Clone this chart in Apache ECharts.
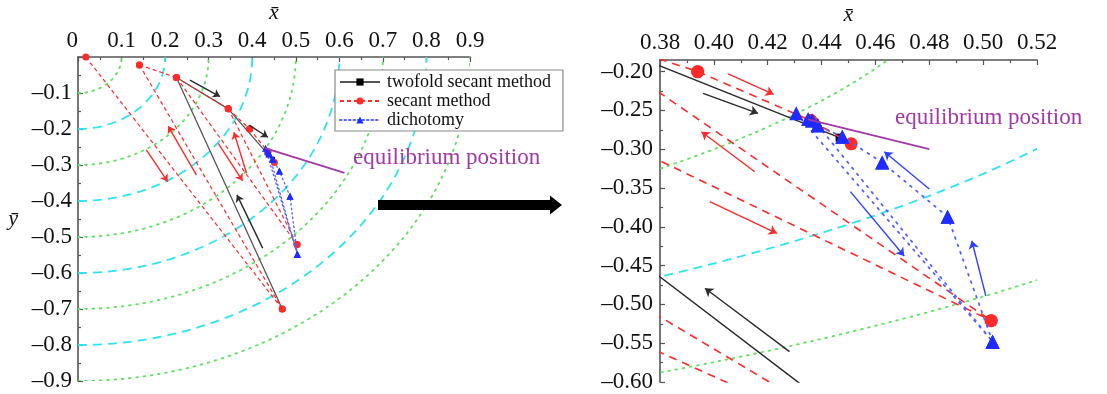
<!DOCTYPE html>
<html>
<head>
<meta charset="utf-8">
<script src="https://cdn.jsdelivr.net/npm/echarts@6/dist/echarts.min.js"></script>
<style>
  html, body { margin: 0; padding: 0; background: #fff; }
  #chart { width: 1107px; height: 394px; }
</style>
</head>
<body>
<div id="chart"></div>
<script>
// Concentric reference circles about the origin (radius, 0 = dotted green, 1 = dashed cyan)
const radii = [0.1, 0.2, 0.3, 0.4, 0.5, 0.6, 0.7, 0.8, 0.9];
const radiusKind = [0, 1, 0, 1, 0, 1, 0, 1, 0];

// Secant method: iterate points and the secants joining them
const secantPoints = [
  [0.018, 0.000], [0.141, -0.022], [0.226, -0.057], [0.345, -0.144],
  [0.394, -0.200], [0.436, -0.263], [0.451, -0.293], [0.469, -0.700], [0.503, -0.521]
];
const secantLinks = [[0, 7], [1, 7], [1, 2], [2, 3], [3, 4], [4, 5], [5, 6], [2, 8], [3, 8]];

// Twofold secant method
const twofoldPoints = [[0.226, -0.057], [0.469, -0.700], [0.345, -0.144], [0.4467, -0.285]];
const twofoldLinks = [[0, 1], [0, 2], [2, 3]];

// Dichotomy
const dichotomyPoints = [
  [0.4306, -0.2537], [0.4350, -0.2610], [0.4365, -0.2630], [0.4386, -0.2690],
  [0.4477, -0.2840], [0.4625, -0.3170], [0.4868, -0.3870], [0.5035, -0.5480]
];
const dichotomyLinks = [[0, 7], [7, 6], [6, 5], [5, 4], [4, 3], [3, 2], [2, 1], [3, 7]];

// Direction arrows, overview panel
const leftBlackArrows = [
  [[0.257, -0.064], [0.326, -0.110]],
  [[0.393, -0.189], [0.436, -0.223]],
  [[0.424, -0.531], [0.365, -0.383]]
];
const leftRedArrows = [
  [[0.157, -0.258], [0.206, -0.346]],
  [[0.272, -0.328], [0.207, -0.192]],
  [[0.322, -0.240], [0.378, -0.344]],
  [[0.387, -0.323], [0.358, -0.209]]
];
// Direction arrows, enlarged panel
const rightBlackArrows = [
  [[0.3960, -0.2280], [0.4164, -0.2537]],
  [[0.4281, -0.5609], [0.3967, -0.4792]]
];
const rightRedArrows = [
  [[0.4053, -0.2030], [0.4222, -0.2292]],
  [[0.4152, -0.3290], [0.3954, -0.2774]],
  [[0.3985, -0.3676], [0.4234, -0.4083]]
];
const rightBlueArrows = [
  [[0.4800, -0.3512], [0.4633, -0.3032]],
  [[0.4507, -0.3547], [0.4707, -0.4376]],
  [[0.5010, -0.4891], [0.4958, -0.4179]]
];

// Pointer lines to the equilibrium label
const leftPointer = [[0.429, -0.253], [0.612, -0.322]];
const rightPointer = [[0.4349, -0.2614], [0.4800, -0.2999]];

const SERIF = 'Liberation Serif';
const RED = '#ff2b2b', BLUE = '#1f2bff', BLACK = '#2a2a2a', PURPLE = '#a23aa6';

function linked(points, links) {
  const out = [];
  links.forEach(([a, b], i) => {
    if (i > 0) out.push(null);
    out.push(points[a], points[b]);
  });
  return out;
}

function renderArc(params, api) {
  const r = api.value(0);
  const o = api.coord([0, 0]);
  const rx = api.size([r, 0])[0];
  const ry = api.size([0, r])[1];
  const dotted = api.value(1) === 0;
  return {
    type: 'path',
    shape: { pathData: 'M ' + o[0] + ' ' + (o[1] + ry) + ' A ' + rx + ' ' + ry + ' 0 0 0 ' + (o[0] + rx) + ' ' + o[1] },
    style: {
      fill: 'none',
      stroke: dotted ? '#62e062' : '#2fe3ef',
      lineWidth: 1.8,
      lineDash: dotted ? [1.8, 5.5] : [9, 6],
      lineCap: dotted ? 'round' : 'butt'
    }
  };
}

function arrowSeries(arr, color, g, size) {
  return {
    type: 'lines', coordinateSystem: 'cartesian2d', xAxisIndex: g, yAxisIndex: g,
    symbol: ['none', 'arrow'], symbolSize: size, z: 6, silent: true,
    lineStyle: { color: color, width: 1.4, opacity: 1, curveness: 0 },
    data: arr.map(c => ({ coords: c }))
  };
}

function panelSeries(g, big) {
  return [
    {
      type: 'custom', xAxisIndex: g, yAxisIndex: g, clip: true, silent: true, z: 1,
      renderItem: renderArc,
      data: radii.map((r, i) => [r, radiusKind[i]])
    },
    {
      name: 'twofold secant method', type: 'line', xAxisIndex: g, yAxisIndex: g, z: 3,
      data: linked(twofoldPoints, twofoldLinks), connectNulls: false,
      symbol: 'rect', symbolSize: big ? 8 : 5, showSymbol: true,
      itemStyle: { color: '#000' },
      lineStyle: { color: big ? BLACK : '#555', width: big ? 1.5 : 1.3, type: 'solid' }
    },
    {
      name: 'secant method', type: 'line', xAxisIndex: g, yAxisIndex: g, z: 4,
      data: linked(secantPoints, secantLinks), connectNulls: false,
      symbol: 'circle', symbolSize: big ? 13 : 7, showSymbol: true,
      itemStyle: { color: RED },
      lineStyle: { color: RED, width: big ? 1.6 : 1.2, type: big ? [8, 6] : [4, 3] }
    },
    {
      name: 'dichotomy', type: 'line', xAxisIndex: g, yAxisIndex: g, z: 5,
      data: linked(dichotomyPoints, dichotomyLinks), connectNulls: false,
      symbol: 'triangle', symbolSize: big ? 14 : 7, showSymbol: true,
      itemStyle: { color: BLUE },
      lineStyle: { color: '#5560ff', width: big ? 1.8 : 1.3, type: big ? [1.8, 6] : [1.5, 3], cap: 'round' }
    },
    {
      type: 'line', xAxisIndex: g, yAxisIndex: g, z: 6, silent: true,
      data: g === 0 ? leftPointer : rightPointer, showSymbol: false,
      lineStyle: { color: PURPLE, width: 1.8 }
    }
  ];
}

function fmt(digits) {
  return v => {
    if (Math.abs(v) < 1e-9) return '0';
    const s = Math.abs(v).toFixed(digits);
    return v < 0 ? '\u2013' + s : s;
  };
}

const axisCommon = {
  type: 'value',
  axisLine: { show: true, onZero: false, lineStyle: { color: '#555', width: 1.6 } },
  axisTick: { show: true, inside: true, length: 5, lineStyle: { color: '#555', width: 1.2 } },
  minorTick: { show: true, splitNumber: 2, length: 3, lineStyle: { color: '#555', width: 1.2 } },
  splitLine: { show: false },
  nameTextStyle: { fontFamily: SERIF, fontStyle: 'italic', fontSize: 22, color: '#111' }
};
const labelCommon = { fontFamily: SERIF, fontSize: 23, color: '#111' };

const chart = echarts.init(document.getElementById('chart'), null, { renderer: 'canvas' });

chart.setOption({
  animation: false,
  backgroundColor: '#fff',
  grid: [
    { left: 78, top: 57, width: 392, height: 324, outerBoundsMode: 'none', containLabel: false },
    { left: 660, top: 60, width: 377, height: 322, outerBoundsMode: 'none', containLabel: false }
  ],
  xAxis: [
    Object.assign({}, axisCommon, {
      gridIndex: 0, position: 'top', min: 0, max: 0.9, interval: 0.1,
      name: 'x\u0304', nameLocation: 'middle', nameGap: 27,
      axisLabel: Object.assign({}, labelCommon, { margin: 5, formatter: fmt(1), alignMinLabel: 'right' })
    }),
    Object.assign({}, axisCommon, {
      gridIndex: 1, position: 'top', min: 0.38, max: 0.52, interval: 0.02,
      name: 'x\u0304', nameLocation: 'middle', nameGap: 29,
      axisLabel: Object.assign({}, labelCommon, { margin: 6, formatter: fmt(2) })
    })
  ],
  yAxis: [
    Object.assign({}, axisCommon, {
      gridIndex: 0, min: -0.9, max: 0, interval: 0.1,
      name: 'y\u0304', nameLocation: 'middle', nameGap: 60, nameRotate: 0,
      axisLabel: Object.assign({}, labelCommon, { margin: 6, showMaxLabel: false, formatter: fmt(1) })
    }),
    Object.assign({}, axisCommon, {
      gridIndex: 1, min: -0.6, max: -0.185, interval: 0.05,
      axisLabel: Object.assign({}, labelCommon, {
        margin: 7,
        formatter: v => (Math.abs(v + 0.185) < 1e-6 ? '' : fmt(2)(v))
      })
    })
  ],
  legend: {
    data: ['twofold secant method', 'secant method', 'dichotomy'],
    orient: 'vertical', left: 335, top: 70,
    itemWidth: 40, itemHeight: 9, itemGap: 1,
    padding: [3, 12, 2, 4],
    backgroundColor: '#fff', borderColor: '#8a8a8a', borderWidth: 1.2, borderRadius: 0,
    selectedMode: false,
    textStyle: { fontFamily: SERIF, fontSize: 18, color: '#111', padding: [0, 0, 0, 2] }
  },
  series: [].concat(
    panelSeries(0, false),
    panelSeries(1, true),
    arrowSeries(leftBlackArrows, BLACK, 0, 7),
    arrowSeries(leftRedArrows, RED, 0, 7),
    arrowSeries(rightBlackArrows, BLACK, 1, 8),
    arrowSeries(rightRedArrows, RED, 1, 8),
    arrowSeries(rightBlueArrows, '#2f3fff', 1, 8)
  ),
  graphic: [
    {
      type: 'text', left: 353, top: 146, z: 10,
      style: { text: 'equilibrium position', font: '23px "Liberation Serif"', fill: PURPLE }
    },
    {
      type: 'text', left: 895, top: 106, z: 10,
      style: { text: 'equilibrium position', font: '23px "Liberation Serif"', fill: PURPLE }
    },
    {
      type: 'polygon', z: 10,
      shape: { points: [[378, 200], [550, 200], [550, 195.5], [562, 205], [550, 214.5], [550, 210], [378, 210]] },
      style: { fill: '#000' }
    }
  ]
});
</script>
</body>
</html>
